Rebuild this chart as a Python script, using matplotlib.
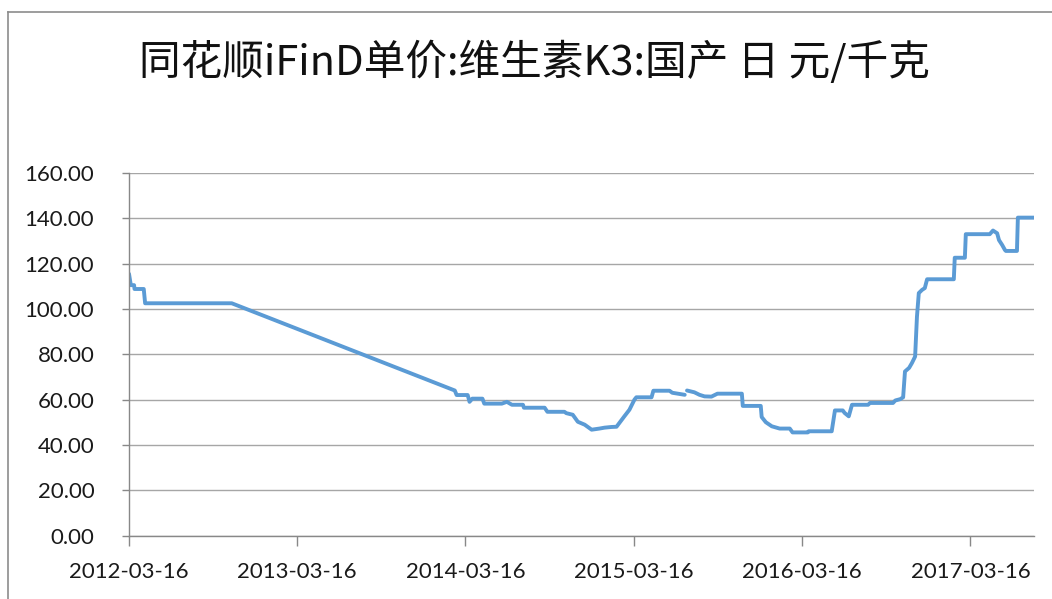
import matplotlib
matplotlib.use("Agg")
import matplotlib.pyplot as plt
import matplotlib.dates as mdates
import pandas as pd
import numpy as np

TITLE = "同花顺iFinD单价:维生素K3:国产 日 元/千克"

# 数据 (从图上读取, NaN = 缺口)
dates = [
    "2012-03-16", "2012-03-20", "2012-03-27", "2012-03-28", "2012-04-17", "2012-04-20",
    "2012-10-25", "2014-02-21", "2014-02-25", "2014-03-21", "2014-03-25", "2014-03-31",
    "2014-04-22", "2014-04-26", "2014-06-03", "2014-06-14", "2014-06-25", "2014-07-19",
    "2014-07-21", "2014-09-04", "2014-09-10", "2014-10-17", "2014-10-21", "2014-11-04",
    "2014-11-15", "2014-11-30", "2014-12-15", "2015-01-01", "2015-01-12", "2015-01-27",
    "2015-02-07", "2015-02-24", "2015-03-07", "2015-03-18", "2015-03-22", "2015-04-24",
    "2015-04-28", "2015-06-02", "2015-06-08", "2015-07-05", "2015-07-07", "2015-07-10",
    "2015-07-26", "2015-08-06", "2015-08-17", "2015-09-01", "2015-09-14", "2015-11-06",
    "2015-11-08", "2015-12-17", "2015-12-19", "2015-12-28", "2016-01-10", "2016-01-27",
    "2016-02-18", "2016-02-24", "2016-03-28", "2016-03-30", "2016-05-19", "2016-05-26",
    "2016-06-12", "2016-06-16", "2016-06-25", "2016-07-02", "2016-08-06", "2016-08-10",
    "2016-09-29", "2016-10-04", "2016-10-15", "2016-10-21", "2016-10-25", "2016-11-03",
    "2016-11-09", "2016-11-16", "2016-11-20", "2016-11-24", "2016-12-01", "2016-12-07",
    "2016-12-12", "2017-02-08", "2017-02-10", "2017-03-04", "2017-03-06", "2017-04-27",
    "2017-05-04", "2017-05-13", "2017-05-17", "2017-05-24", "2017-05-30", "2017-06-01",
    "2017-06-25", "2017-06-27", "2017-08-01",
]
prices = [
    115.5, 110.5, 110.5, 108.8, 108.8, 102.5,
    102.5, 64.0, 62.0, 62.0, 59.0, 60.4,
    60.4, 58.2, 58.2, 59.0, 57.7, 57.7,
    56.4, 56.4, 54.6, 54.6, 54.0, 53.3,
    50.2, 48.9, 46.7, 47.2, 47.6, 47.9,
    48.0, 52.6, 55.5, 60.0, 61.0, 61.0,
    63.9, 63.9, 63.0, 62.1, np.nan, 64.0,
    63.2, 62.1, 61.4, 61.3, 62.6, 62.6,
    57.2, 57.2, 52.3, 50.0, 48.2, 47.2,
    47.2, 45.5, 45.5, 46.0, 46.0, 55.2,
    55.2, 54.1, 52.6, 57.7, 57.7, 58.5,
    58.5, 59.6, 60.2, 61.0, 72.4, 74.0,
    76.1, 79.0, 96.6, 107.0, 108.4, 109.2,
    113.1, 113.1, 122.6, 122.6, 133.0, 133.0,
    134.6, 133.4, 130.4, 128.2, 126.0, 125.6,
    125.6, 140.3, 140.3,
]
xticks = ["2012-03-16", "2013-03-16", "2014-03-16", "2015-03-16", "2016-03-16", "2017-03-16"]
yticks = [0, 20, 40, 60, 80, 100, 120, 140, 160]

x = pd.to_datetime(dates)

fig = plt.figure(figsize=(10.52, 5.99), dpi=100)
ax = fig.add_axes([129 / 1052, 1 - 535.5 / 599, (1034 - 129) / 1052, (535.5 - 173) / 599])

ax.plot(x, prices, color="#5B9BD5", lw=2.8, solid_joinstyle="round", solid_capstyle="round")

ax.set_xlim(pd.Timestamp("2012-03-16"), pd.Timestamp("2017-08-01"))
ax.set_ylim(0, 160)
ax.set_xticks(pd.to_datetime(xticks))
ax.xaxis.set_major_formatter(mdates.DateFormatter("%Y-%m-%d"))
ax.set_yticks(yticks)
ax.set_yticklabels([f"{v:.2f}" for v in yticks])

for lab in ax.get_xticklabels() + ax.get_yticklabels():
    lab.set_family("Lato")
    lab.set_fontsize(16)
    lab.set_color("#1a1a1a")

ax.tick_params(axis="y", length=5, width=1, color="#888888", pad=20)
ax.tick_params(axis="x", length=7, width=1, color="#888888", pad=12)
ax.grid(axis="y", color="#A6A6A6", lw=1)
ax.set_axisbelow(True)
for s in ["top", "right"]:
    ax.spines[s].set_visible(False)
for s in ["left", "bottom"]:
    ax.spines[s].set_color("#888888")
    ax.spines[s].set_linewidth(1)

fig.text(534 / 1052, 1 - 62 / 599, TITLE, ha="center", va="center", fontsize=30,
         family=["Noto Sans CJK SC", "DejaVu Sans"], color="#111111")

# 图表边框
fig.add_artist(plt.Line2D([7.5 / 1052, 7.5 / 1052], [0, 1 - 12 / 599], transform=fig.transFigure,
                          color="#8C8C8C", lw=1.2))
fig.add_artist(plt.Line2D([7.5 / 1052, 1], [1 - 12 / 599, 1 - 12 / 599], transform=fig.transFigure,
                          color="#8C8C8C", lw=1.2))

fig.savefig("out.png", dpi=100)
